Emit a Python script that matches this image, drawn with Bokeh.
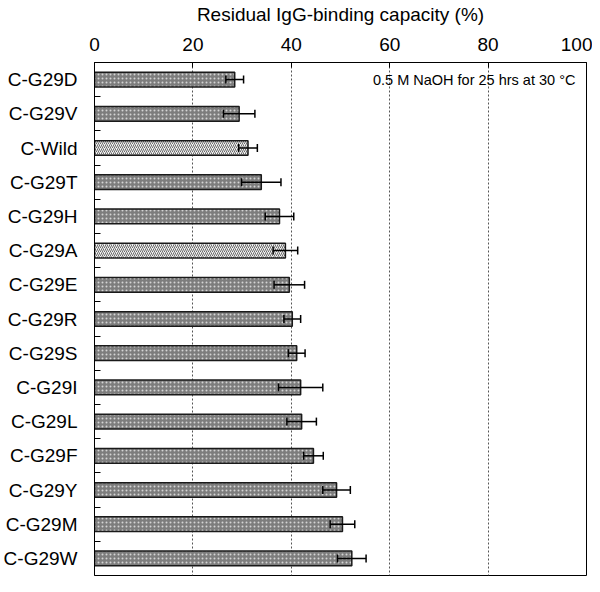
from bokeh.plotting import figure
from bokeh.models import ColumnDataSource, Range1d, FixedTicker, Whisker, TeeHead, Label
from bokeh.embed import file_html
from bokeh.resources import INLINE

categories = ["C-G29D", "C-G29V", "C-Wild", "C-G29T", "C-G29H", "C-G29A", "C-G29E",
              "C-G29R", "C-G29S", "C-G29I", "C-G29L", "C-G29F", "C-G29Y", "C-G29M", "C-G29W"]
values = [28.5, 29.4, 31.2, 33.9, 37.6, 38.8, 39.6, 40.2, 41.1, 41.9, 42.1, 44.5, 49.2, 50.4, 52.3]
errors = [1.8, 3.2, 1.9, 4.0, 2.9, 2.5, 3.1, 1.7, 1.7, 4.5, 3.0, 2.0, 2.8, 2.5, 2.9]
reference_variants = ["C-Wild", "C-G29A"]
x_ticks = [0, 20, 40, 60, 80, 100]
x_title = "Residual IgG-binding capacity (%)"
note = "0.5 M NaOH for 25 hrs at 30 \u00b0C"

FONT = "Liberation Sans"

pos = list(range(len(categories)))
is_ref = [c in reference_variants for c in categories]
src = ColumnDataSource(dict(
    y=pos,
    val=values,
    lo=[v - e for v, e in zip(values, errors)],
    hi=[v + e for v, e in zip(values, errors)],
    fill=["#f2f2f2" if r else "#7d7d7d" for r in is_ref],
    hpat=["/" if r else "." for r in is_ref],
    hcol=["#6a6a6a" if r else "#d4d4d4" for r in is_ref],
))

p = figure(width=592, height=576, output_backend="svg", toolbar_location=None,
           x_axis_location="above",
           x_range=Range1d(x_ticks[0], x_ticks[-1]),
           y_range=Range1d(len(categories) - 0.5, -0.5),
           min_border_left=88, min_border_right=6, min_border_top=58, min_border_bottom=1)

p.hbar(y="y", left=0, right="val", height=0.43, source=src,
       fill_color="fill", line_color="#1a1a1a", line_width=1.5,
       hatch_pattern="hpat", hatch_color="hcol", hatch_scale=4, hatch_weight=1)

w = Whisker(source=src, base="y", lower="lo", upper="hi", dimension="width",
            line_color="black", line_width=1.5, level="overlay",
            upper_head=TeeHead(size=8, line_width=1.5, line_color="black"),
            lower_head=TeeHead(size=8, line_width=1.5, line_color="black"))
p.add_layout(w)

p.add_layout(Label(x=56.6, y=0, text=note, text_baseline="middle", text_align="left",
                   text_font=FONT, text_font_size="14.5px", text_color="black"))

# top axis
xa = p.xaxis[0]
xa.ticker = FixedTicker(ticks=x_ticks)
xa.axis_label = x_title
xa.axis_label_text_font = FONT
xa.axis_label_text_font_style = "normal"
xa.axis_label_text_font_size = "19px"
xa.axis_label_text_color = "black"
xa.axis_label_standoff = 10
xa.major_label_text_font = FONT
xa.major_label_text_font_size = "19px"
xa.major_label_text_color = "black"
xa.major_label_standoff = 12
xa.major_tick_in = 5
xa.major_tick_out = 0
xa.minor_tick_line_color = None
xa.axis_line_color = "black"
xa.major_tick_line_color = "black"

# left axis
ya = p.yaxis[0]
ya.ticker = FixedTicker(ticks=pos, minor_ticks=[i + 0.5 for i in pos[:-1]])
ya.major_label_overrides = {i: c for i, c in zip(pos, categories)}
ya.major_label_text_font = FONT
ya.major_label_text_font_size = "19px"
ya.major_label_text_color = "black"
ya.major_label_standoff = 17
ya.major_tick_in = 0
ya.major_tick_out = 0
ya.minor_tick_in = 6
ya.minor_tick_out = 0
ya.minor_tick_line_color = "black"
ya.axis_line_color = "black"

p.xgrid.ticker = FixedTicker(ticks=x_ticks[1:-1])
p.xgrid.grid_line_color = "#555555"
p.xgrid.grid_line_dash = "2 2"
p.xgrid.grid_line_width = 1
p.ygrid.grid_line_color = None

p.outline_line_color = "black"
p.outline_line_width = 1
p.background_fill_color = "white"
p.border_fill_color = "white"

open("out.html", "w").write(file_html(p, INLINE))
